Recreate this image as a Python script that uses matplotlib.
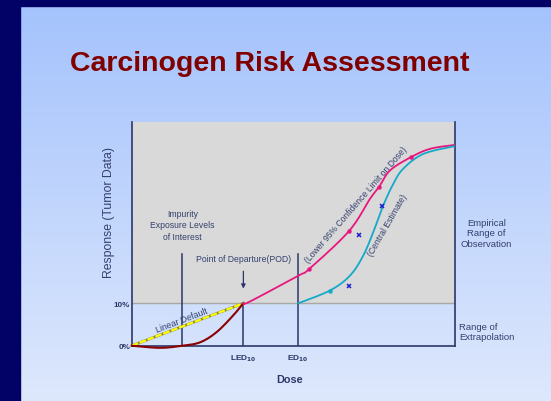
import numpy as np
import matplotlib
matplotlib.use("Agg")
import matplotlib.pyplot as plt

plt.rcParams['font.family'] = ['Liberation Sans', 'DejaVu Sans']

# --- data (dose 0-100, response in %) ---
led_dose = 34.6
ed_dose = 51.6
impurity_dose = 15.7

true_dose = [0, 8.8, 15.7, 21.2, 26.3, 31.4, 34.6]
true_resp = [0, -0.5, 0, 0.8, 3.2, 7.1, 10]

lower_dose = [34.6, 36.6, 51.6, 55.0, 67.3, 73.8, 76.6, 80.0, 86.4, 92.4, 99.8]
lower_resp = [10, 10.4, 16.5, 18.1, 27.0, 34.6, 37.4, 41.3, 44.4, 46.4, 47.3]
lower_mark_dose = [55.0, 67.3, 76.6, 86.4]
lower_mark_resp = [18.1, 27.0, 37.4, 44.4]

central_dose = [51.6, 61.4, 67.6, 71.7, 74.8, 77.9, 81.0, 84.1, 90.3, 99.8]
central_resp = [10, 13.0, 16.5, 21.2, 26.7, 33.0, 38.1, 41.7, 45.2, 47.0]
central_mark_dose = [61.4]
central_mark_resp = [13.0]

obs_dose = [67.3, 70.4, 77.6]
obs_resp = [14.0, 26.1, 32.9]

linear_dose = [0, led_dose]
linear_resp = [0, 10]

ytick_vals = [0, 10]
ytick_labels = ['0%', '10%']
xtick_vals = [led_dose, ed_dose]
xtick_labels = [r'LED$_\mathbf{10}$', r'ED$_\mathbf{10}$']

NAVY = '#2b3768'
TEXT = '#34406e'


def smooth(xs, ys, n=30):
    # Catmull-Rom through the read points, only for drawing a smooth line
    p = np.column_stack([xs, ys]).astype(float)
    p = np.vstack([p[0], p, p[-1]])
    out = []
    t = np.linspace(0, 1, n, endpoint=False)[:, None]
    for i in range(1, len(p) - 2):
        p0, p1, p2, p3 = p[i - 1], p[i], p[i + 1], p[i + 2]
        seg = 0.5 * ((2 * p1) + (-p0 + p2) * t + (2 * p0 - 5 * p1 + 4 * p2 - p3) * t ** 2
                     + (-p0 + 3 * p1 - 3 * p2 + p3) * t ** 3)
        out.append(seg)
    out.append(p[-2][None, :])
    out = np.vstack(out)
    return out[:, 0], out[:, 1]


W, H = 551, 402
fig = plt.figure(figsize=(W / 100, H / 100), dpi=100)

# slide background: gradient plus navy frame
bg = fig.add_axes([0, 0, 1, 1])
grad = np.linspace(0, 1, 256)[:, None]
top = np.array([0.64, 0.76, 0.99])
bot = np.array([0.87, 0.91, 0.99])
img = top[None, None, :] * (1 - grad[:, :, None]) + bot[None, None, :] * grad[:, :, None]
bg.imshow(img, aspect='auto', extent=[0, W, H, 0])
bg.add_patch(plt.Rectangle((0, 0), 20, H, color='#020266'))
bg.add_patch(plt.Rectangle((0, 0), W, 7, color='#020266'))
bg.set_xlim(0, W)
bg.set_ylim(H, 0)
bg.axis('off')

fig.text(270 / W, 1 - 64 / H, 'Carcinogen Risk Assessment', color='#800000',
         fontsize=20.5, fontweight='bold', ha='center', va='center')

# main chart
ax = fig.add_axes([131.7 / W, 1 - 346.7 / H, 322.8 / W, 224 / H])
ax.patch.set_alpha(0)
ax.set_xlim(0, 100)
ax.set_ylim(0, 52.8)
ax.axhspan(10, 52.8, color='#d9d9d9', zorder=0)
ax.axhline(10, color='#a8a8a8', lw=1, zorder=1)

ax.spines['top'].set_visible(False)
for s in ['left', 'bottom', 'right']:
    ax.spines[s].set_color(NAVY)
    ax.spines[s].set_linewidth(1.2)

ax.set_yticks(ytick_vals)
ax.set_yticklabels(ytick_labels, fontsize=5.8, fontweight='bold', color=NAVY)
ax.set_xticks(xtick_vals)
ax.set_xticklabels(xtick_labels, fontsize=6, fontweight='bold', color=NAVY)
ax.tick_params(axis='y', length=0, pad=1)
ax.tick_params(axis='x', length=0, pad=5)

ax.set_ylabel('Response (Tumor Data)', fontsize=8.8, color=TEXT)
ax.yaxis.set_label_coords(-0.052, 0.6)
ax.set_xlabel('Dose', fontsize=7.8, fontweight='bold', color=NAVY)
ax.xaxis.set_label_coords(0.49, -0.125)

# vertical reference lines
ax.plot([impurity_dose, impurity_dose], [0, 21.6], color=NAVY, lw=1.1, zorder=3)
ax.plot([led_dose, led_dose], [0, 10], color=NAVY, lw=1.1, zorder=3)
ax.plot([ed_dose, ed_dose], [0, 21.6], color=NAVY, lw=1.1, zorder=3)

# linear default
ax.plot(linear_dose, linear_resp, color='#8a8a50', lw=2.0, zorder=4)
ax.plot(linear_dose, linear_resp, color='#ffff00', lw=1.6, zorder=5,
        linestyle=(0, (3, 0.8)))

# curves
x, y = smooth(true_dose, true_resp)
ax.plot(x, y, color='#8b0000', lw=1.5, zorder=6, clip_on=False)
x, y = smooth(lower_dose, lower_resp)
ax.plot(x, y, color='#e8177d', lw=1.3, zorder=6)
ax.plot(lower_mark_dose, lower_mark_resp, 'o', color='#e8177d', ms=2.2, zorder=7)
x, y = smooth(central_dose, central_resp)
ax.plot(x, y, color='#14a9c9', lw=1.3, zorder=6)
ax.plot(central_mark_dose, central_mark_resp, 'o', color='#14a9c9', ms=2.2, zorder=7)
ax.plot(obs_dose, obs_resp, 'x', color='#1c1cc8', ms=3, mew=1.1, zorder=8)

# arrow to point of departure
ax.annotate('', xy=(led_dose, 12.8), xytext=(led_dose, 18.2),
            arrowprops=dict(arrowstyle='-|>', color=NAVY, lw=0.9, mutation_scale=6))

# annotations
ax.text(15.7, 28.5, 'Impurity\nExposure Levels\nof Interest', fontsize=6.2, color=TEXT,
        ha='center', va='center', linespacing=1.35)
ax.text(34.6, 19.6, 'Point of Departure(POD)', fontsize=6.2, color=TEXT,
        ha='center', va='bottom')
ax.text(15.5, 6.2, 'Linear Default', fontsize=6.3, color=TEXT, rotation=21,
        ha='center', va='center')
ax.text(69.4, 33.3, '(Lower 95% Confidence Limit on Dose)', fontsize=6.2, color=TEXT,
        rotation=49, ha='center', va='center')
ax.text(79.2, 28.6, '(Central Estimate)', fontsize=6.2, color=TEXT,
        rotation=60, ha='center', va='center')
ax.text(102, 26.6, 'Empirical\nRange of\nObservation', fontsize=6.8, color=TEXT,
        ha='left', va='center', multialignment='center', linespacing=1.2)
ax.text(101.5, 3.4, 'Range of\nExtrapolation', fontsize=6.8, color=TEXT,
        ha='left', va='center', linespacing=1.2)

fig.savefig('out.png', dpi=100)
